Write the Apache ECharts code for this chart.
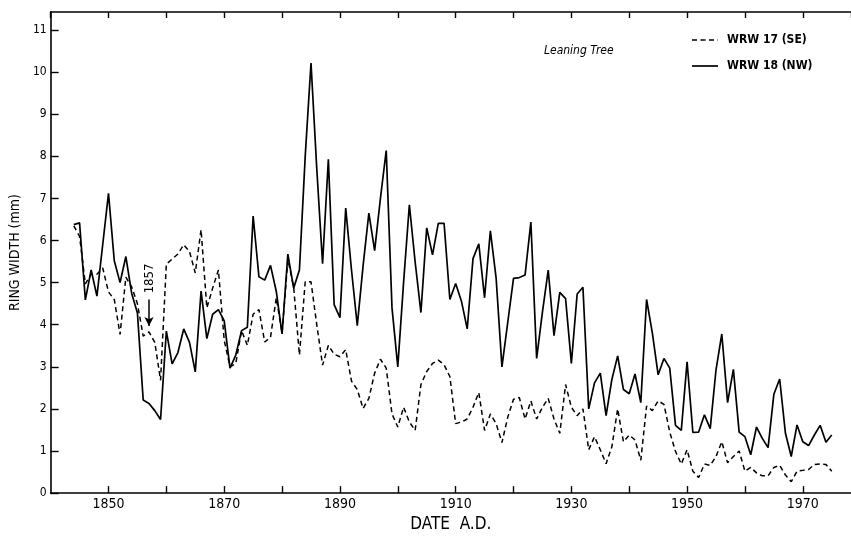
<!DOCTYPE html>
<html>
<head>
<meta charset="utf-8">
<script src="https://cdn.jsdelivr.net/npm/echarts@6/dist/echarts.min.js"></script>
<style>
html,body{margin:0;padding:0;background:#fff;}
#c{width:851px;height:538px;}
</style>
</head>
<body>
<div id="c"></div>
<script>
// Years of the ring-width records
const startYear = 1844;
const endYear = 1975;
// WRW 18 (NW) — solid line, ring width in mm
const wrw18 = [
  6.38, 6.42, 4.59, 5.30, 4.68, 5.90,
  7.12, 5.52, 5.00, 5.62, 4.75, 4.28, 2.21, 2.13, 1.96, 1.75,
  3.85, 3.07, 3.34, 3.90, 3.58, 2.88, 4.80, 3.67, 4.25, 4.36,
  4.09, 2.97, 3.28, 3.86, 3.94, 6.58, 5.14, 5.06, 5.41, 4.79,
  3.78, 5.68, 4.87, 5.30, 8.00, 10.22, 7.70, 5.45, 7.93, 4.48,
  4.17, 6.77, 5.30, 3.98, 5.40, 6.65, 5.76, 7.00, 8.14, 4.40,
  3.00, 5.00, 6.85, 5.49, 4.29, 6.30, 5.66, 6.41, 6.41, 4.60,
  4.98, 4.56, 3.90, 5.57, 5.92, 4.64, 6.23, 5.10, 3.00, 4.05,
  5.10, 5.12, 5.18, 6.44, 3.20, 4.30, 5.30, 3.74, 4.77, 4.62,
  3.08, 4.73, 4.89, 2.00, 2.62, 2.85, 1.84, 2.70, 3.26, 2.46,
  2.36, 2.83, 2.15, 4.60, 3.80, 2.81, 3.20, 2.97, 1.61, 1.49,
  3.12, 1.44, 1.45, 1.86, 1.53, 2.93, 3.78, 2.15, 2.94, 1.45,
  1.34, 0.91, 1.57, 1.30, 1.08, 2.35, 2.71, 1.42, 0.87, 1.62,
  1.22, 1.13, 1.38, 1.61, 1.21, 1.38
];
// WRW 17 (SE) — dashed line, ring width in mm
const wrw17 = [
  6.35, 6.10, 4.97, 5.20, 5.20, 5.35,
  4.78, 4.60, 3.77, 5.13, 4.90, 4.50, 3.73, 3.83, 3.58, 2.68,
  5.44, 5.56, 5.68, 5.90, 5.74, 5.23, 6.26, 4.40, 4.87, 5.30,
  3.63, 3.00, 3.08, 3.86, 3.51, 4.25, 4.36, 3.59, 3.70, 4.64,
  3.80, 5.55, 4.90, 3.28, 5.02, 5.02, 4.00, 3.04, 3.51, 3.30,
  3.24, 3.41, 2.66, 2.46, 2.01, 2.25, 2.85, 3.18, 2.97, 1.88,
  1.57, 2.04, 1.69, 1.49, 2.58, 2.89, 3.08, 3.16, 3.05, 2.77,
  1.65, 1.69, 1.76, 2.04, 2.39, 1.49, 1.88, 1.65, 1.20, 1.80,
  2.23, 2.27, 1.76, 2.19, 1.76, 2.04, 2.25, 1.76, 1.42, 2.58,
  2.04, 1.84, 2.00, 1.03, 1.34, 1.03, 0.70, 1.10, 2.00, 1.22,
  1.38, 1.26, 0.78, 2.07, 1.96, 2.19, 2.11, 1.45, 0.99, 0.69,
  1.03, 0.52, 0.37, 0.69, 0.66, 0.87, 1.22, 0.72, 0.87, 1.00,
  0.52, 0.61, 0.48, 0.41, 0.41, 0.61, 0.66, 0.43, 0.27, 0.52,
  0.54, 0.56, 0.68, 0.69, 0.68, 0.52
];
const seriesNames = ['WRW 17 (SE)', 'WRW 18 (NW)'];
const yTickLabels = [0,1,2,3,4,5,6,7,8,9,10,11];
const xTickLabels = [1850,1870,1890,1910,1930,1950,1970];
const annotationYear = 1857;
const titleNote = 'Leaning Tree';

const years = [];
for (let y = startYear; y <= endYear; y++) years.push(y);
const pair = arr => years.map((y, i) => [y, arr[i]]);

const FONT = "'Liberation Sans Narrow','DejaVu Sans Condensed','Liberation Sans',sans-serif";
const DASH = [5, 3.5];
const chart = echarts.init(document.getElementById('c'), null, {renderer: 'canvas'});
const axisLine = {show: true, lineStyle: {color: '#000', width: 1.6}};

chart.setOption({
  animation: false,
  backgroundColor: '#fff',
  grid: {left: 39, right: 0, top: 12, bottom: 35.5, containLabel: false},
  xAxis: [{
    type: 'value', position: 'bottom', min: 1840, max: 1978.33, interval: 10,
    name: 'DATE  A.D.', nameLocation: 'middle', nameGap: 20,
    nameTextStyle: {fontFamily: FONT, fontSize: 17, color: '#000'},
    axisLine: axisLine,
    axisTick: {show: true, inside: true, length: 7, lineStyle: {color: '#000', width: 1.4}},
    axisLabel: {
      fontFamily: FONT, fontSize: 14, color: '#000', margin: 4,
      showMinLabel: false, showMaxLabel: false,
      formatter: v => xTickLabels.indexOf(v) >= 0 ? String(v) : ''
    },
    splitLine: {show: false}
  }, {
    type: 'value', position: 'top', min: 1840, max: 1978.33, interval: 10,
    axisLine: axisLine,
    axisTick: {show: true, inside: true, length: 6, lineStyle: {color: '#000', width: 1.4}},
    axisLabel: {show: false},
    splitLine: {show: false}
  }],
  yAxis: {
    type: 'value', min: 0, max: 11.43, interval: 1,
    name: 'RING WIDTH (mm)', nameLocation: 'middle', nameGap: 22, nameRotate: 90,
    nameTextStyle: {fontFamily: FONT, fontSize: 14, color: '#000'},
    axisLine: axisLine,
    axisTick: {show: true, inside: true, length: 8, lineStyle: {color: '#000', width: 1.4}},
    axisLabel: {
      fontFamily: FONT, fontSize: 12, color: '#000', margin: 4, showMaxLabel: false,
      formatter: v => yTickLabels.indexOf(v) >= 0 ? String(v) : ''
    },
    splitLine: {show: false}
  },
  series: [{
    name: seriesNames[0], type: 'line', xAxisIndex: 0, data: pair(wrw17),
    showSymbol: false, symbol: 'none',
    lineStyle: {color: '#000', width: 1.5, type: DASH},
    itemStyle: {color: '#000'},
    markLine: {
      silent: true, symbol: ['none', 'arrow'], symbolSize: [7, 9],
      label: {show: false},
      lineStyle: {color: '#000', width: 1.5, type: 'solid'},
      data: [[{coord: [annotationYear, 4.6]}, {coord: [annotationYear, 3.97]}]]
    },
    z: 2
  }, {
    name: seriesNames[1], type: 'line', xAxisIndex: 0, data: pair(wrw18),
    showSymbol: false, symbol: 'none',
    lineStyle: {color: '#000', width: 1.7, type: 'solid'},
    itemStyle: {color: '#000'},
    z: 3
  }]
});

// Annotation text and legend, placed via the chart's own coordinate conversion
const p = chart.convertToPixel({xAxisIndex: 0, yAxisIndex: 0}, [annotationYear, 5.1]);
chart.setOption({
  graphic: [
    {
      type: 'text', x: p[0] + 1, y: p[1], rotation: Math.PI / 2,
      style: {text: String(annotationYear), fontFamily: FONT, fontSize: 13, fill: '#000',
        align: 'center', verticalAlign: 'middle'}
    },
    {
      type: 'text', left: 544, top: 45,
      style: {text: titleNote, fontFamily: FONT, fontSize: 12, fontStyle: 'italic', fill: '#000'}
    },
    {
      type: 'line', shape: {x1: 692, y1: 40, x2: 718, y2: 40},
      style: {stroke: '#000', lineWidth: 1.5, lineDash: DASH}
    },
    {
      type: 'text', x: 727, y: 40,
      style: {text: seriesNames[0], fontFamily: FONT, fontSize: 12, fontWeight: 'bold',
        fill: '#000', verticalAlign: 'middle'}
    },
    {
      type: 'line', shape: {x1: 692, y1: 66, x2: 718, y2: 66},
      style: {stroke: '#000', lineWidth: 1.7}
    },
    {
      type: 'text', x: 727, y: 66,
      style: {text: seriesNames[1], fontFamily: FONT, fontSize: 12, fontWeight: 'bold',
        fill: '#000', verticalAlign: 'middle'}
    }
  ]
});
</script>
</body>
</html>
